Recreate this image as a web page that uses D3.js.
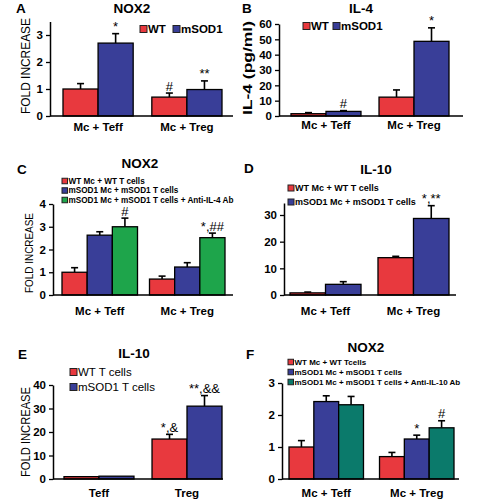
<!DOCTYPE html>
<html><head><meta charset="utf-8">
<script src="https://cdn.jsdelivr.net/npm/d3@7/dist/d3.min.js"></script>
<style>body{margin:0;background:#fff}svg{display:block}text{font-family:"Liberation Sans",Arial,sans-serif;fill:#000}</style>
</head><body><svg id="c" width="482" height="504"></svg>
<script>
// ---------- data ----------
const groupsMc = ["Mc + Teff", "Mc + Treg"];
const groupsT = ["Teff", "Treg"];

// Panel A: NOX2
const aTicks = [0, 1, 2, 3];
const aWT = [1.0, 0.7], aWTErr = [0.2, 0.15], aWTNote = ["", "#"];
const aSOD = [2.7, 0.98], aSODErr = [0.35, 0.32], aSODNote = ["*", "**"];
const aLegend = ["WT", "mSOD1"];

// Panel B: IL-4
const bTicks = [0, 10, 20, 30, 40, 50, 60];
const bWT = [1.5, 12.3], bWTErr = [0.7, 4.7], bWTNote = ["", ""];
const bSOD = [3.0, 48.7], bSODErr = [0.5, 8.8], bSODNote = ["#", "*"];
const bLegend = ["WT", "mSOD1"];

// Panel C: NOX2 (anti-IL-4)
const cTicks = [0, 1, 2, 3, 4];
const cWT = [1.0, 0.7], cWTErr = [0.2, 0.13];
const cSOD = [2.63, 1.23], cSODErr = [0.15, 0.19];
const cAb = [3.0, 2.52], cAbErr = [0.38, 0.2], cAbNote = ["#", "*,##"];
const cLegend = ["WT Mc + WT T cells", "mSOD1 Mc + mSOD1 T cells", "mSOD1 Mc + mSOD1 T cells + Anti-IL-4 Ab"];

// Panel D: IL-10
const dTicks = [0, 10, 20, 30];
const dWT = [0.8, 14.0], dWTErr = [0.3, 0.5];
const dSOD = [4.0, 28.7], dSODErr = [1.0, 4.8], dSODNote = ["", "*,**"];
const dLegend = ["WT Mc + WT T cells", "mSOD1 Mc + mSOD1 T cells"];

// Panel E: IL-10 (T cells)
const eTicks = [0, 10, 20, 30, 40];
const eWT = [1.0, 17.0], eWTErr = [0, 2.0], eWTNote = ["", "*,&"];
const eSOD = [1.2, 31.0], eSODErr = [0, 4.5], eSODNote = ["", "**,&&"];
const eLegend = ["WT T cells", "mSOD1 T cells"];

// Panel F: NOX2 (anti-IL-10)
const fTicks = [0, 1, 2, 3];
const fWT = [1.0, 0.7], fWTErr = [0.2, 0.13];
const fSOD = [2.42, 1.25], fSODErr = [0.18, 0.12], fSODNote = ["", "*"];
const fAb = [2.32, 1.6], fAbErr = [0.26, 0.22], fAbNote = ["", "#"];
const fLegend = ["WT Mc + WT Tcells", "mSOD1 Mc + mSOD1 T cells", "mSOD1 Mc + mSOD1 T cells + Anti-IL-10 Ab"];

// ---------- styles ----------
const RED = "#e8393e", BLUE = "#393e98", GREEN = "#1ea54b", TEAL = "#0b7a6b";

const svg = d3.select("#c");

function ser(name, color, values, errs, notes) {
  return {name, color, values, errs, notes: notes || values.map(() => "")};
}

function drawPanel(p) {
  const g = svg.append("g");
  const x0 = d3.scaleBand().domain(p.groups).range(p.xRange).paddingInner(p.padInner);
  const x1 = d3.scaleBand().domain(p.series.map(s => s.name)).range([0, x0.bandwidth()]);
  const y = d3.scaleLinear().domain(p.yDomain).range(p.yRange);

  p.series.forEach(s => {
    const rows = p.groups.map((grp, i) => ({grp, v: s.values[i], e: s.errs[i], n: s.notes[i]}));
    const sg = g.append("g");
    rows.forEach(r => {
      if (r.e > 0) {
        const cx = x0(r.grp) + x1(s.name) + x1.bandwidth() / 2;
        sg.append("line").attr("x1", cx).attr("x2", cx).attr("y1", y(r.v)).attr("y2", y(r.v + r.e))
          .attr("stroke", "#000").attr("stroke-width", 1.6);
        sg.append("line").attr("x1", cx - 3.5).attr("x2", cx + 3.5).attr("y1", y(r.v + r.e)).attr("y2", y(r.v + r.e))
          .attr("stroke", "#000").attr("stroke-width", 1.6);
      }
    });
    sg.selectAll("rect").data(rows).enter().append("rect")
      .attr("x", r => x0(r.grp) + x1(s.name))
      .attr("width", x1.bandwidth())
      .attr("y", r => y(r.v))
      .attr("height", r => y(0) - y(r.v))
      .attr("fill", s.color).attr("stroke", "#000").attr("stroke-width", 1.3);
    rows.forEach(r => {
      if (r.n) {
        const cx = x0(r.grp) + x1(s.name) + x1.bandwidth() / 2;
        sg.append("text").attr("x", cx).attr("y", y(r.v + r.e) - 2.5)
          .attr("text-anchor", "middle").attr("font-size", 13).attr("fill", "#222").text(r.n);
      }
    });
  });

  const ax = g.append("g").attr("transform", `translate(${p.axisX},0)`)
    .call(d3.axisLeft(y).tickValues(p.ticks).tickSize(4).tickSizeOuter(0).tickFormat(d3.format("d")));
  ax.select(".domain").attr("stroke", "#000").attr("stroke-width", 1.5);
  ax.selectAll(".tick line").attr("stroke", "#000").attr("stroke-width", 1.3);
  ax.selectAll(".tick text").attr("font-size", 11.5).attr("font-weight", "bold")
    .attr("font-family", '"Liberation Sans",Arial,sans-serif').attr("x", -7).attr("fill", "#111");
  g.append("line").attr("x1", p.axisX).attr("x2", p.axisEnd).attr("y1", y(0)).attr("y2", y(0))
    .attr("stroke", "#000").attr("stroke-width", 1.5);

  g.selectAll(".xl").data(p.groups).enter().append("text")
    .attr("x", d => x0(d) + x0.bandwidth() / 2).attr("y", p.xLabelY)
    .attr("text-anchor", "middle").attr("font-size", 11.5).attr("font-weight", "bold").text(d => d);

  g.append("text").attr("x", p.titleX).attr("y", p.titleY).attr("text-anchor", "middle")
    .attr("font-size", 13.5).attr("font-weight", "bold").text(p.title);
  g.append("text").attr("x", p.letterX).attr("y", p.letterY)
    .attr("font-size", 13.5).attr("font-weight", "bold").text(p.letter);

  if (p.yLabel) {
    g.append("text").attr("transform", `translate(${p.yLabelX},${p.yLabelY}) rotate(-90)`)
      .attr("text-anchor", "middle").attr("font-size", p.yLabelSize)
      .attr("font-weight", p.yLabelBold ? "bold" : "normal")
      .attr("textLength", p.yLabelLen).attr("lengthAdjust", "spacingAndGlyphs").text(p.yLabel);
  }

  const L = p.legend;
  p.series.forEach((s, i) => {
    const lx = L.xs ? L.xs[i] : L.x;
    const ly = L.ys ? L.ys[i] : L.y;
    g.append("rect").attr("x", lx).attr("y", ly - L.sq / 2).attr("width", L.sq).attr("height", L.sq)
      .attr("fill", s.color).attr("stroke", "#222").attr("stroke-width", 1);
    g.append("text").attr("x", lx + L.sq + 1).attr("y", ly).attr("dy", "0.36em")
      .attr("font-size", L.size).attr("font-weight", L.bold ? "bold" : "normal").text(L.labels[i]);
  });
}

drawPanel({
  letter: "A", letterX: 16, letterY: 13, title: "NOX2", titleX: 132, titleY: 13,
  groups: groupsMc, xRange: [63, 222], padInner: 0.21, axisX: 50, axisEnd: 233,
  yDomain: [0, 3.5], yRange: [116, 21.5], ticks: aTicks, xLabelY: 131,
  yLabel: "FOLD INCREASE", yLabelX: 30, yLabelY: 66, yLabelSize: 12, yLabelLen: 96,
  series: [ser("WT", RED, aWT, aWTErr, aWTNote), ser("mSOD1", BLUE, aSOD, aSODErr, aSODNote)],
  legend: {labels: aLegend, xs: [140, 173], y: 29, sq: 7, size: 11.5, bold: true}
});

drawPanel({
  letter: "B", letterX: 242, letterY: 13, title: "IL-4", titleX: 361, titleY: 13,
  groups: groupsMc, xRange: [291, 449], padInner: 0.205, axisX: 279, axisEnd: 463,
  yDomain: [0, 60], yRange: [116, 24], ticks: bTicks, xLabelY: 129,
  yLabel: "IL-4 (pg/ml)", yLabelX: 252, yLabelY: 68, yLabelSize: 13, yLabelLen: 94, yLabelBold: true,
  series: [ser("WT", RED, bWT, bWTErr, bWTNote), ser("mSOD1", BLUE, bSOD, bSODErr, bSODNote)],
  legend: {labels: bLegend, xs: [303, 333], y: 26, sq: 7, size: 11.5, bold: true}
});

drawPanel({
  letter: "C", letterX: 17, letterY: 174, title: "NOX2", titleX: 140, titleY: 168,
  groups: groupsMc, xRange: [62, 225], padInner: 0.137, axisX: 53, axisEnd: 233,
  yDomain: [0, 4], yRange: [295, 204], ticks: cTicks, xLabelY: 315,
  yLabel: "FOLD INCREASE", yLabelX: 33, yLabelY: 253, yLabelSize: 11, yLabelLen: 80,
  series: [ser("WT", RED, cWT, cWTErr), ser("mSOD1", BLUE, cSOD, cSODErr), ser("Ab", GREEN, cAb, cAbErr, cAbNote)],
  legend: {labels: cLegend, x: 62, ys: [181, 190.5, 200], sq: 5.5, size: 8.2, bold: true}
});

drawPanel({
  letter: "D", letterX: 244, letterY: 173, title: "IL-10", titleX: 376, titleY: 174,
  groups: groupsMc, xRange: [290, 449], padInner: 0.193, axisX: 284, axisEnd: 456,
  yDomain: [0, 34.5], yRange: [295, 203], ticks: dTicks, xLabelY: 315,
  series: [ser("WT", RED, dWT, dWTErr), ser("mSOD1", BLUE, dSOD, dSODErr, dSODNote)],
  legend: {labels: dLegend, x: 288, ys: [188, 202], sq: 6, size: 9, bold: true}
});

drawPanel({
  letter: "E", letterX: 18, letterY: 359, title: "IL-10", titleX: 134, titleY: 358,
  groups: groupsT, xRange: [64, 222], padInner: 0.205, axisX: 53, axisEnd: 223,
  yDomain: [0, 40], yRange: [479, 385], ticks: eTicks, xLabelY: 497,
  yLabel: "FOLD INCREASE", yLabelX: 30, yLabelY: 432, yLabelSize: 12, yLabelLen: 90,
  series: [ser("WT", RED, eWT, eWTErr, eWTNote), ser("mSOD1", BLUE, eSOD, eSODErr, eSODNote)],
  legend: {labels: eLegend, x: 70, ys: [372, 387], sq: 7, size: 11.5, bold: false}
});

drawPanel({
  letter: "F", letterX: 246, letterY: 359, title: "NOX2", titleX: 366, titleY: 352,
  groups: groupsMc, xRange: [289, 454], padInner: 0.177, axisX: 282, axisEnd: 459,
  yDomain: [0, 3], yRange: [479, 383], ticks: fTicks, xLabelY: 497,
  series: [ser("WT", RED, fWT, fWTErr), ser("mSOD1", BLUE, fSOD, fSODErr, fSODNote), ser("Ab", TEAL, fAb, fAbErr, fAbNote)],
  legend: {labels: fLegend, x: 288, ys: [362, 372, 382], sq: 5.5, size: 8, bold: true}
});
</script></body></html>
